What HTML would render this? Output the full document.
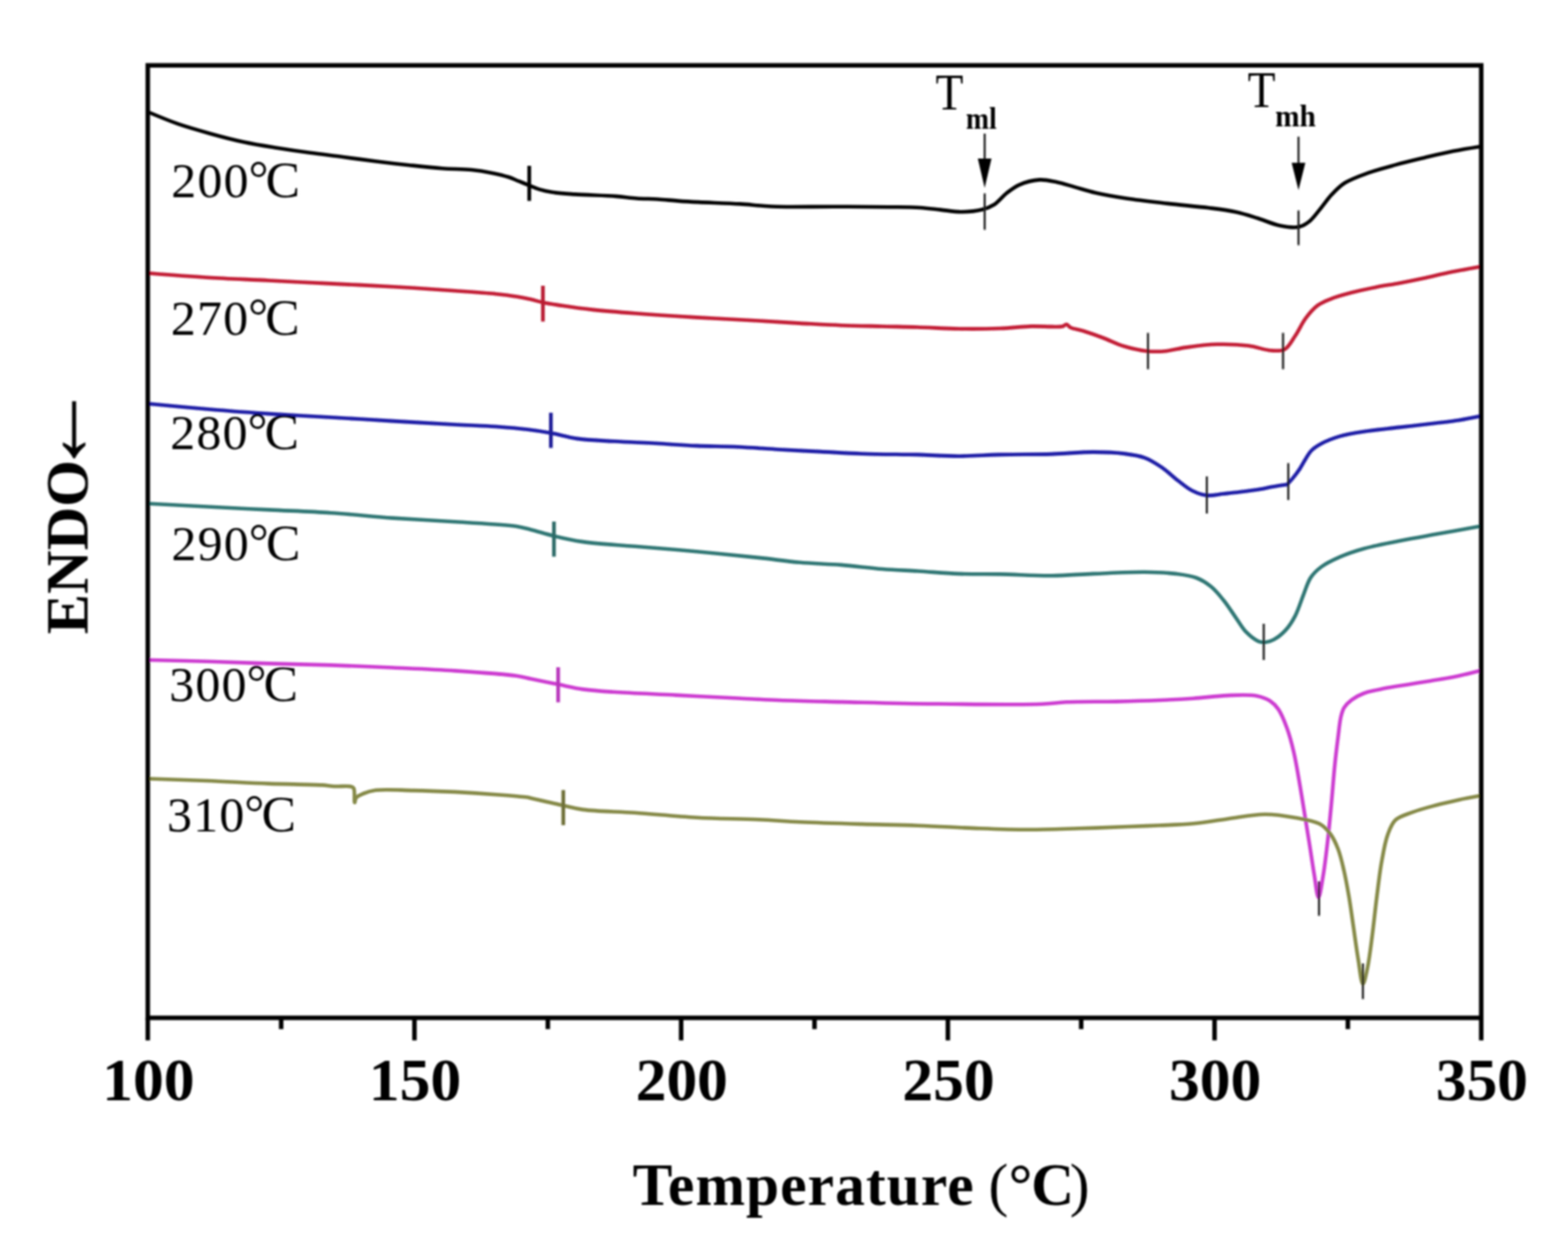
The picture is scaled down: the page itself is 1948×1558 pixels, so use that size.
<!DOCTYPE html><html><head><meta charset="utf-8"><title>DSC curves</title><style>
html,body{margin:0;padding:0;background:#fff;}svg{display:block;}
text{font-family:'Liberation Serif', 'Times New Roman', serif;}
.tl{font-weight:bold;font-size:75px;text-anchor:middle;}
.lab{font-size:62px;}
</style></head><body>
<svg width="1948" height="1558" viewBox="0 0 1948 1558">
<rect width="100%" height="100%" fill="#fff"/>
<defs><filter id="soft" x="0" y="0" width="100%" height="100%" filterUnits="userSpaceOnUse"><feGaussianBlur stdDeviation="1.00"/></filter></defs><g filter="url(#soft)">
<path d="M186.0,140.0 C186.0,140.0 208.8,149.6 221.0,153.9 C234.0,158.4 248.3,162.4 262.0,166.2 C275.6,170.0 289.3,173.6 303.0,176.5 C316.6,179.4 330.3,181.5 344.0,183.7 C357.7,185.9 371.3,187.9 385.0,189.8 C398.7,191.7 412.3,193.2 426.0,195.0 C439.8,196.8 453.7,198.8 467.5,200.5 C481.2,202.2 494.8,203.7 508.5,205.2 C522.2,206.7 536.3,208.3 549.6,209.3 C562.0,210.2 574.7,209.9 585.7,211.0 C595.0,211.9 603.3,213.3 611.3,214.9 C618.6,216.4 625.9,218.1 631.9,220.0 C636.7,221.6 640.4,223.5 644.7,225.2 C649.0,226.9 653.2,228.6 657.5,230.3 C661.8,232.0 665.9,234.0 670.4,235.4 C675.3,236.9 679.9,237.9 685.8,238.8 C693.8,240.0 703.2,240.6 714.0,241.4 C728.6,242.4 751.1,242.8 765.3,243.9 C775.3,244.7 782.4,245.9 791.0,246.5 C799.6,247.1 808.1,247.0 816.7,247.5 C825.2,248.0 833.8,249.0 842.3,249.6 C850.9,250.2 858.0,250.6 868.0,251.1 C882.2,251.8 905.1,252.5 919.3,253.4 C929.3,254.0 936.9,254.9 945.0,255.5 C952.2,256.0 956.5,256.5 965.5,256.8 C982.6,257.3 1016.1,256.6 1040.0,256.7 C1062.2,256.8 1085.5,256.9 1104.2,257.2 C1118.7,257.4 1131.2,257.3 1142.7,258.0 C1152.1,258.6 1159.8,259.7 1168.3,260.6 C1176.9,261.5 1185.4,263.2 1194.0,263.2 C1202.6,263.2 1212.4,262.5 1219.7,260.6 C1225.6,259.1 1230.1,257.3 1235.0,254.2 C1240.5,250.7 1245.2,244.2 1250.5,240.0 C1255.5,236.1 1259.9,232.5 1265.9,229.8 C1273.1,226.6 1283.4,223.9 1291.5,223.4 C1298.7,223.0 1305.0,224.6 1312.0,226.0 C1319.5,227.5 1327.3,230.2 1335.2,232.4 C1343.5,234.7 1351.3,237.3 1360.8,239.5 C1372.3,242.1 1385.5,244.4 1399.3,246.5 C1415.2,248.9 1433.6,250.9 1450.7,252.9 C1467.8,254.9 1486.7,256.3 1502.0,258.3 C1514.5,259.9 1525.3,261.2 1535.9,263.5 C1545.5,265.6 1553.9,268.5 1562.9,271.3 C1571.9,274.1 1581.0,278.5 1589.8,280.3 C1597.8,281.9 1606.7,283.4 1613.2,282.1 C1618.2,281.1 1621.8,278.9 1625.8,275.8 C1630.8,272.0 1635.4,265.3 1640.1,259.7 C1645.0,253.9 1649.3,247.2 1654.5,241.7 C1659.5,236.4 1664.2,231.4 1670.7,227.3 C1678.2,222.5 1687.9,219.1 1697.6,215.6 C1708.6,211.6 1721.6,208.2 1733.6,204.9 C1745.5,201.6 1757.5,198.8 1769.5,195.9 C1781.4,193.1 1793.7,190.1 1805.4,187.8 C1816.5,185.6 1838.0,182.2 1838.0,182.2" fill="none" stroke="#050505" stroke-width="4.60" stroke-linejoin="round" stroke-linecap="round"/>
<path d="M186.0,339.5 C186.0,339.5 232.8,343.2 257.0,344.7 C282.1,346.2 308.3,347.2 334.0,348.5 C359.7,349.8 385.3,351.1 411.0,352.4 C436.7,353.7 462.3,354.7 488.0,356.2 C513.7,357.7 541.9,359.7 565.0,361.3 C583.8,362.6 602.1,363.8 616.3,365.2 C626.3,366.2 634.2,367.2 642.0,368.5 C648.6,369.6 654.2,370.8 660.0,372.1 C665.3,373.3 669.7,374.8 675.4,376.0 C682.3,377.4 689.8,378.5 698.5,379.8 C709.7,381.5 723.2,383.4 737.0,384.9 C752.9,386.6 769.5,387.9 788.3,389.3 C811.4,391.1 839.6,392.9 865.3,394.4 C891.0,395.9 919.2,397.2 942.3,398.5 C961.2,399.6 976.6,400.6 993.7,401.6 C1010.8,402.5 1027.9,403.5 1045.0,404.2 C1062.1,404.8 1079.9,405.1 1096.3,405.5 C1111.5,405.9 1124.9,406.0 1140.0,406.5 C1156.4,407.0 1174.2,408.2 1191.3,408.5 C1208.4,408.8 1226.8,408.6 1242.7,408.0 C1256.5,407.5 1269.7,405.7 1281.2,405.4 C1290.6,405.2 1299.7,405.9 1306.8,405.9 C1311.9,405.9 1316.7,406.3 1320.0,405.5 C1322.1,405.0 1323.4,402.8 1325.0,403.0 C1326.7,403.2 1327.7,405.9 1330.0,407.0 C1333.6,408.8 1339.6,409.3 1345.3,411.0 C1352.8,413.3 1362.5,416.8 1371.0,420.0 C1379.6,423.2 1387.8,427.6 1396.7,430.3 C1405.8,433.0 1415.9,435.3 1424.9,436.2 C1432.9,437.0 1440.1,436.9 1448.0,436.2 C1456.4,435.5 1464.2,432.9 1473.7,431.6 C1485.2,430.0 1499.4,428.1 1512.2,427.8 C1525.0,427.5 1538.9,428.0 1550.7,429.5 C1561.0,430.8 1571.1,435.0 1579.4,435.5 C1585.7,435.9 1591.3,436.6 1596.0,434.0 C1601.4,431.1 1604.9,423.3 1609.1,417.2 C1613.8,410.4 1617.5,401.4 1622.5,394.9 C1627.0,388.9 1632.1,383.1 1637.4,379.2 C1642.1,375.7 1646.5,374.1 1652.3,371.8 C1659.8,368.8 1669.9,366.0 1679.1,363.6 C1688.7,361.0 1698.9,358.9 1708.9,356.9 C1718.8,354.9 1728.8,353.6 1738.7,351.7 C1748.6,349.8 1758.5,347.8 1768.4,345.7 C1778.3,343.6 1787.5,341.2 1798.2,339.0 C1810.5,336.5 1838.0,331.5 1838.0,331.5" fill="none" stroke="#c21c34" stroke-width="4.60" stroke-linejoin="round" stroke-linecap="round"/>
<path d="M186.0,501.8 C186.0,501.8 232.8,506.2 257.0,508.2 C282.1,510.3 308.3,512.4 334.0,514.1 C359.7,515.8 385.3,517.0 411.0,518.5 C436.7,520.0 462.3,521.6 488.0,523.1 C513.7,524.6 541.9,526.3 565.0,527.5 C583.8,528.5 600.4,528.9 616.3,530.0 C630.1,531.0 642.8,532.0 654.8,533.5 C665.3,534.8 674.4,536.2 684.4,538.0 C694.9,539.9 704.8,543.2 716.5,544.9 C730.4,546.9 746.9,547.3 762.7,548.3 C779.3,549.3 796.9,549.9 814.0,550.8 C831.1,551.7 848.2,553.2 865.3,553.9 C882.4,554.6 899.6,554.4 916.7,555.2 C933.8,556.0 950.9,557.5 968.0,558.5 C985.1,559.5 1002.2,560.2 1019.3,561.1 C1036.4,562.0 1053.6,563.1 1070.7,563.7 C1087.8,564.3 1109.3,564.5 1122.0,564.7 C1129.5,564.8 1132.5,564.7 1140.0,564.9 C1152.7,565.2 1174.2,566.7 1191.3,566.7 C1208.4,566.7 1224.6,565.3 1242.7,564.9 C1262.9,564.4 1286.6,564.7 1306.8,564.1 C1324.9,563.5 1342.3,561.6 1358.2,561.6 C1372.0,561.6 1385.2,562.1 1396.7,563.6 C1406.2,564.8 1414.4,565.9 1422.3,568.8 C1429.8,571.6 1436.2,575.8 1442.9,580.3 C1450.0,585.1 1456.7,591.9 1463.4,597.0 C1469.5,601.7 1475.2,606.7 1481.4,609.8 C1487.2,612.7 1493.0,614.8 1499.3,615.5 C1505.9,616.2 1513.2,614.2 1520.0,613.5 C1526.7,612.8 1532.9,612.2 1540.0,611.3 C1548.0,610.3 1558.3,609.0 1565.7,607.7 C1571.5,606.7 1575.7,605.6 1581.0,604.7 C1586.7,603.7 1599.0,602.0 1599.0,602.0 C1599.0,602.0 1599.0,602.0 1599.0,602.0 C1599.0,602.0 1604.2,596.5 1606.7,593.4 C1609.3,590.2 1611.9,586.8 1614.4,583.1 C1617.1,579.1 1619.5,574.3 1622.0,570.3 C1624.3,566.6 1626.0,563.1 1629.0,560.0 C1632.4,556.5 1636.8,553.7 1641.9,551.0 C1648.2,547.6 1656.1,544.5 1664.2,542.1 C1673.3,539.4 1683.0,537.9 1694.0,536.2 C1707.4,534.1 1723.8,532.7 1738.7,530.9 C1753.6,529.2 1769.9,527.3 1783.3,525.7 C1794.2,524.4 1803.6,523.5 1813.1,522.0 C1821.8,520.6 1838.0,517.3 1838.0,517.3" fill="none" stroke="#1e1ca6" stroke-width="4.60" stroke-linejoin="round" stroke-linecap="round"/>
<path d="M186.0,625.7 C186.0,625.7 232.9,628.2 257.0,629.5 C282.1,630.8 308.3,632.1 334.0,633.4 C359.7,634.7 385.3,635.5 411.0,637.2 C436.7,638.9 462.3,641.7 488.0,643.6 C513.7,645.4 539.3,646.6 565.0,648.3 C590.7,650.0 625.3,651.3 642.0,653.9 C650.2,655.2 653.3,656.5 660.0,658.2 C668.4,660.3 678.2,663.5 688.2,665.9 C699.4,668.6 710.4,671.1 724.2,673.1 C742.4,675.7 766.0,676.9 788.3,678.8 C812.8,680.9 839.6,682.9 865.3,685.2 C891.0,687.6 919.2,690.4 942.3,692.9 C961.2,694.9 976.6,697.3 993.7,698.8 C1010.8,700.3 1027.9,700.5 1045.0,701.9 C1062.1,703.3 1079.9,705.7 1096.3,707.0 C1111.4,708.2 1124.9,708.6 1140.0,709.5 C1156.4,710.5 1174.2,712.3 1191.3,712.9 C1208.4,713.5 1224.6,713.1 1242.7,713.4 C1262.9,713.8 1286.6,715.4 1306.8,715.2 C1324.9,715.0 1340.1,713.6 1358.2,712.9 C1378.4,712.1 1403.6,710.6 1422.3,710.8 C1436.8,711.0 1449.3,711.5 1460.8,712.9 C1470.3,714.1 1478.9,715.1 1486.5,718.0 C1493.3,720.6 1499.0,724.3 1504.5,728.8 C1510.2,733.4 1515.0,739.4 1519.9,745.5 C1525.3,752.1 1530.4,760.4 1535.3,767.3 C1539.8,773.6 1543.2,780.2 1548.1,785.2 C1552.7,789.9 1558.9,794.9 1563.5,796.8 C1566.6,798.1 1569.1,798.2 1572.0,798.0 C1575.3,797.7 1578.7,796.7 1582.3,794.8 C1587.0,792.3 1592.8,787.7 1597.2,782.9 C1601.8,777.9 1605.6,771.9 1609.1,765.1 C1613.2,757.3 1616.2,746.7 1619.6,738.3 C1622.6,730.9 1624.5,723.3 1628.5,717.4 C1632.1,712.0 1636.5,708.0 1641.9,704.0 C1648.1,699.4 1656.1,695.7 1664.2,692.1 C1673.3,688.1 1683.0,684.8 1694.0,681.7 C1707.3,678.0 1723.8,675.0 1738.7,672.0 C1753.6,669.0 1767.7,666.6 1783.3,663.8 C1800.6,660.7 1838.0,654.0 1838.0,654.0" fill="none" stroke="#2f7673" stroke-width="4.60" stroke-linejoin="round" stroke-linecap="round"/>
<path d="M186.0,820.0 C186.0,820.0 232.9,821.1 257.0,821.8 C282.1,822.5 308.3,823.6 334.0,824.4 C359.7,825.2 385.3,825.6 411.0,826.4 C436.7,827.3 462.3,828.3 488.0,829.5 C513.7,830.7 539.3,831.7 565.0,833.4 C590.7,835.1 625.3,837.4 642.0,839.8 C650.1,841.0 653.1,842.2 660.0,843.6 C669.4,845.5 682.5,848.1 693.4,850.3 C703.9,852.4 713.3,854.8 724.2,856.4 C736.3,858.1 747.7,858.8 762.7,859.8 C784.0,861.3 814.0,862.3 839.7,863.6 C865.4,864.9 893.6,866.4 916.7,867.5 C935.5,868.4 949.2,869.3 968.0,870.0 C991.1,870.9 1016.8,871.4 1045.0,872.1 C1079.5,872.9 1120.2,874.1 1160.0,874.5 C1203.0,875.0 1265.1,875.8 1294.0,874.7 C1307.9,874.2 1312.8,872.8 1324.8,872.3 C1341.8,871.5 1366.6,872.0 1386.4,871.6 C1404.9,871.2 1423.2,870.7 1440.0,870.0 C1455.0,869.4 1468.3,868.7 1482.4,867.7 C1496.5,866.7 1511.2,864.6 1524.7,864.1 C1537.2,863.6 1551.0,862.7 1560.7,864.5 C1567.5,865.8 1573.0,867.8 1577.7,870.8 C1582.0,873.6 1585.1,876.8 1588.3,881.4 C1592.4,887.4 1595.8,896.3 1598.9,904.7 C1602.3,913.9 1604.9,924.1 1607.3,934.4 C1609.9,945.3 1611.6,956.7 1613.7,968.3 C1615.9,980.6 1617.9,993.6 1620.0,1006.4 C1622.1,1019.5 1624.3,1032.7 1626.4,1046.0 C1628.6,1059.5 1630.7,1074.6 1632.8,1087.0 C1634.5,1097.2 1636.2,1115.0 1638.0,1115.0 C1639.8,1115.0 1642.0,1098.2 1643.8,1088.0 C1646.1,1074.8 1648.0,1057.3 1649.7,1042.4 C1651.3,1028.0 1652.5,1014.6 1653.9,1000.0 C1655.4,984.3 1656.7,966.3 1658.2,951.3 C1659.5,938.4 1661.0,926.2 1662.4,915.3 C1663.6,906.1 1664.3,896.6 1666.0,890.0 C1667.1,885.5 1667.9,882.3 1670.0,879.0 C1672.3,875.4 1675.7,872.1 1679.5,869.3 C1683.6,866.2 1688.5,863.7 1694.1,861.5 C1701.1,858.9 1710.0,857.3 1718.5,855.6 C1727.8,853.7 1738.0,852.3 1747.8,850.7 C1757.6,849.1 1767.3,847.5 1777.1,845.9 C1786.8,844.3 1796.4,843.0 1806.3,841.0 C1816.7,838.9 1838.0,833.5 1838.0,833.5" fill="none" stroke="#cc3ad0" stroke-width="4.60" stroke-linejoin="round" stroke-linecap="round"/>
<path d="M186.0,967.5 C186.0,967.5 232.9,969.0 257.0,970.0 C282.1,971.0 309.3,972.7 334.0,973.6 C356.8,974.4 385.7,974.5 400.0,975.4 C406.9,975.9 409.9,976.7 415.4,977.0 C421.8,977.4 432.1,976.0 436.0,977.2 C437.8,977.7 438.7,978.0 439.5,979.5 C441.2,982.5 439.8,996.9 440.6,997.0 C441.1,997.1 441.1,992.7 442.5,991.0 C444.2,988.8 447.9,987.4 451.3,986.0 C455.6,984.2 460.1,982.7 466.7,981.8 C478.0,980.3 497.7,981.8 513.7,982.1 C530.4,982.4 547.9,983.1 565.0,983.9 C582.1,984.8 600.4,986.0 616.3,987.2 C630.1,988.2 647.9,989.5 654.8,990.6 C657.4,991.0 657.5,991.2 660.0,991.8 C667.0,993.4 688.1,998.3 699.8,1000.8 C708.9,1002.8 714.1,1004.5 724.2,1005.9 C740.4,1008.1 766.0,1008.3 788.3,1009.8 C812.8,1011.5 839.6,1014.3 865.3,1015.7 C891.0,1017.1 919.2,1017.2 942.3,1018.3 C961.2,1019.2 974.8,1020.4 993.7,1021.3 C1016.8,1022.4 1045.7,1023.2 1070.7,1023.9 C1094.4,1024.6 1116.3,1024.8 1140.0,1025.7 C1165.0,1026.6 1192.8,1028.4 1217.0,1029.3 C1238.7,1030.1 1258.1,1030.8 1278.6,1030.8 C1299.1,1030.8 1319.7,1029.9 1340.2,1029.3 C1360.7,1028.7 1383.7,1027.7 1401.8,1027.0 C1416.0,1026.5 1426.9,1026.1 1440.0,1025.5 C1453.8,1024.9 1468.3,1024.6 1482.4,1023.3 C1496.5,1022.0 1510.3,1019.4 1524.7,1017.5 C1539.9,1015.5 1556.5,1011.8 1571.3,1011.7 C1584.7,1011.6 1597.6,1013.8 1609.5,1016.0 C1620.1,1017.9 1631.7,1019.5 1639.3,1023.6 C1645.2,1026.8 1648.9,1031.0 1652.7,1036.0 C1656.8,1041.4 1659.7,1048.0 1662.4,1055.0 C1665.4,1062.8 1667.4,1071.8 1669.5,1081.0 C1671.9,1091.3 1673.9,1102.6 1675.9,1114.1 C1678.0,1126.4 1679.7,1139.7 1681.6,1152.6 C1683.5,1165.7 1685.3,1179.7 1687.4,1192.0 C1689.2,1202.8 1691.0,1222.4 1693.2,1222.5 C1695.0,1222.6 1697.3,1210.0 1699.0,1202.0 C1701.3,1191.0 1703.0,1176.2 1704.8,1162.3 C1706.8,1147.0 1708.5,1129.6 1710.5,1114.1 C1712.4,1099.5 1713.9,1085.1 1716.3,1071.7 C1718.5,1059.5 1720.5,1046.6 1724.0,1037.1 C1726.7,1029.8 1728.8,1023.4 1733.7,1018.8 C1738.9,1013.9 1747.1,1012.0 1754.8,1009.1 C1763.6,1005.8 1774.0,1003.1 1783.7,1000.5 C1793.3,997.9 1803.3,995.7 1812.6,993.7 C1821.3,991.8 1838.0,988.8 1838.0,988.8" fill="none" stroke="#858947" stroke-width="4.60" stroke-linejoin="round" stroke-linecap="round"/>
<line x1="657.5" y1="206.0" x2="657.5" y2="249.6" stroke="#050505" stroke-width="4.60"/>
<line x1="674.5" y1="355.0" x2="674.5" y2="399.5" stroke="#b81a30" stroke-width="4.60"/>
<line x1="684.4" y1="512.8" x2="684.4" y2="556.5" stroke="#1c1a98" stroke-width="4.60"/>
<line x1="688.2" y1="648.0" x2="688.2" y2="691.6" stroke="#2a6a67" stroke-width="4.60"/>
<line x1="693.4" y1="829.0" x2="693.4" y2="872.6" stroke="#b836bc" stroke-width="4.60"/>
<line x1="699.8" y1="981.6" x2="699.8" y2="1025.2" stroke="#6e7038" stroke-width="4.60"/>
<line x1="1223.3" y1="240.3" x2="1223.3" y2="285.5" stroke="#1e1e1e" stroke-width="2.6"/>
<line x1="1613.2" y1="261.5" x2="1613.2" y2="304.6" stroke="#1e1e1e" stroke-width="2.6"/>
<line x1="1426.2" y1="413.6" x2="1426.2" y2="458.7" stroke="#1e1e1e" stroke-width="2.6"/>
<line x1="1594.0" y1="413.6" x2="1594.0" y2="458.7" stroke="#1e1e1e" stroke-width="2.6"/>
<line x1="1499.3" y1="591.9" x2="1499.3" y2="638.0" stroke="#1e1e1e" stroke-width="2.6"/>
<line x1="1600.5" y1="575.4" x2="1600.5" y2="621.2" stroke="#1e1e1e" stroke-width="2.6"/>
<line x1="1570.0" y1="775.0" x2="1570.0" y2="820.0" stroke="#1e1e1e" stroke-width="2.6"/>
<line x1="1638.7" y1="1095.0" x2="1638.7" y2="1137.7" stroke="#1e1e1e" stroke-width="2.6"/>
<line x1="1693.2" y1="1197.0" x2="1693.2" y2="1241.3" stroke="#1e1e1e" stroke-width="2.6"/>
<rect x="183.6" y="81.2" width="1656.6" height="1183.4" fill="none" stroke="#000" stroke-width="5.60"/>
<line x1="183.6" y1="1264.6" x2="183.6" y2="1292.6" stroke="#000" stroke-width="5.60"/>
<line x1="349.3" y1="1264.6" x2="349.3" y2="1278.6" stroke="#000" stroke-width="5.60"/>
<line x1="514.9" y1="1264.6" x2="514.9" y2="1292.6" stroke="#000" stroke-width="5.60"/>
<line x1="680.6" y1="1264.6" x2="680.6" y2="1278.6" stroke="#000" stroke-width="5.60"/>
<line x1="846.2" y1="1264.6" x2="846.2" y2="1292.6" stroke="#000" stroke-width="5.60"/>
<line x1="1011.9" y1="1264.6" x2="1011.9" y2="1278.6" stroke="#000" stroke-width="5.60"/>
<line x1="1177.6" y1="1264.6" x2="1177.6" y2="1292.6" stroke="#000" stroke-width="5.60"/>
<line x1="1343.2" y1="1264.6" x2="1343.2" y2="1278.6" stroke="#000" stroke-width="5.60"/>
<line x1="1508.9" y1="1264.6" x2="1508.9" y2="1292.6" stroke="#000" stroke-width="5.60"/>
<line x1="1674.5" y1="1264.6" x2="1674.5" y2="1278.6" stroke="#000" stroke-width="5.60"/>
<line x1="1840.2" y1="1264.6" x2="1840.2" y2="1292.6" stroke="#000" stroke-width="5.60"/>
<text class="tl" transform="translate(184.4,1367) scale(1.02,1)" x="0" y="0">100</text>
<text class="tl" transform="translate(515.7,1367) scale(1.02,1)" x="0" y="0">150</text>
<text class="tl" transform="translate(847.0,1367) scale(1.02,1)" x="0" y="0">200</text>
<text class="tl" transform="translate(1178.4,1367) scale(1.02,1)" x="0" y="0">250</text>
<text class="tl" transform="translate(1509.7,1367) scale(1.02,1)" x="0" y="0">300</text>
<text class="tl" transform="translate(1841.0,1367) scale(1.02,1)" x="0" y="0">350</text>
<text x="786" y="1497" style="font-weight:bold;font-size:74px;letter-spacing:1.25px">Temperature</text>
<text x="1228 1253 1281 1329" y="1497" style="font-weight:bold;font-size:74px"><tspan style="font-weight:normal">(</tspan>°C<tspan style="font-weight:normal">)</tspan></text>
<text transform="translate(108.8,788) rotate(-90)" style="font-weight:bold;font-size:75px">ENDO<tspan dx="-23" dy="2.5" style="font-weight:normal;font-size:120px">←</tspan></text>
<text class="lab" x="212.7" y="245.3"><tspan style="letter-spacing:1.5px">200</tspan><tspan dx="-1.5" dy="-3">°</tspan><tspan dx="-3.5" dy="3" style="font-size:64px">C</tspan></text>
<text class="lab" x="212.2" y="415.8"><tspan style="letter-spacing:1.5px">270</tspan><tspan dx="-1.5" dy="-3">°</tspan><tspan dx="-3.5" dy="3" style="font-size:64px">C</tspan></text>
<text class="lab" x="211.5" y="557.6"><tspan style="letter-spacing:1.5px">280</tspan><tspan dx="-1.5" dy="-3">°</tspan><tspan dx="-3.5" dy="3" style="font-size:64px">C</tspan></text>
<text class="lab" x="213.1" y="696.1"><tspan style="letter-spacing:1.5px">290</tspan><tspan dx="-1.5" dy="-3">°</tspan><tspan dx="-3.5" dy="3" style="font-size:64px">C</tspan></text>
<text class="lab" x="210.2" y="871.2"><tspan style="letter-spacing:1.5px">300</tspan><tspan dx="-1.5" dy="-3">°</tspan><tspan dx="-3.5" dy="3" style="font-size:64px">C</tspan></text>
<text class="lab" x="207.6" y="1032.7"><tspan style="letter-spacing:1.5px">310</tspan><tspan dx="-1.5" dy="-3">°</tspan><tspan dx="-3.5" dy="3" style="font-size:64px">C</tspan></text>
<text transform="translate(1162.3,135.8) scale(0.9,1)" x="0" y="0" style="font-size:63px">T</text><text transform="translate(1200,160.3) scale(0.93,1)" x="0" y="0" style="font-size:37px;font-weight:bold">ml</text>
<text transform="translate(1550,133) scale(0.9,1)" x="0" y="0" style="font-size:63px">T</text><text transform="translate(1584.2,157.3) scale(0.98,1)" x="0" y="0" style="font-size:37px;font-weight:bold">mh</text>
<line x1="1223.3" y1="166.0" x2="1223.3" y2="199.0" stroke="#222" stroke-width="2.6"/>
<path d="M1214.8,197.0 L1231.8,197.0 L1223.3,233.5 Z" fill="#000"/>
<line x1="1613.2" y1="169.8" x2="1613.2" y2="204.2" stroke="#222" stroke-width="2.6"/>
<path d="M1604.7,202.2 L1621.7,202.2 L1613.2,236.3 Z" fill="#000"/>
</g></svg></body></html>
